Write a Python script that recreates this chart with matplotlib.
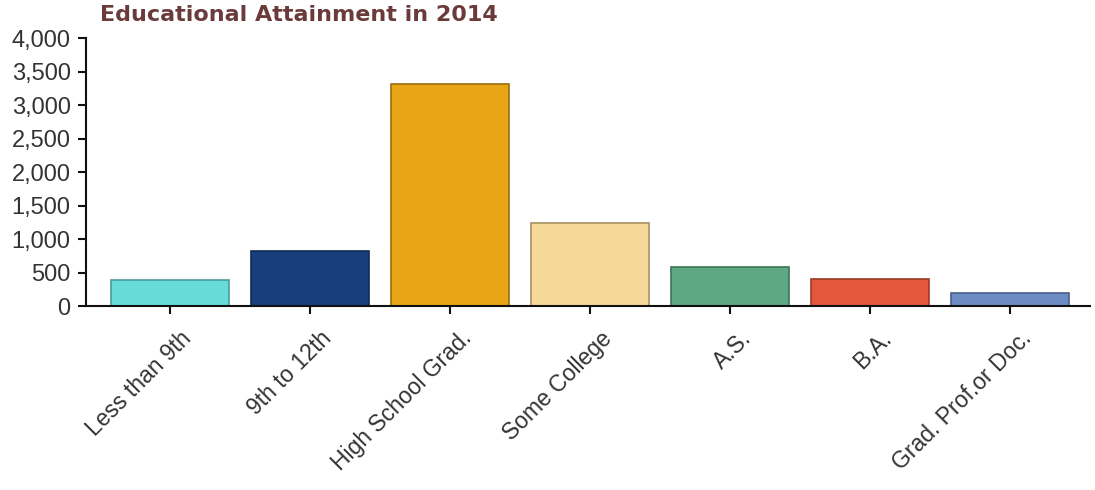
import matplotlib.pyplot as plt
import matplotlib.transforms as mtransforms
from matplotlib.ticker import FuncFormatter

plt.rcParams['font.family'] = ['Liberation Sans', 'DejaVu Sans']

categories = ['Less than 9th', '9th to 12th', 'High School Grad.', 'Some College',
              'A.S.', 'B.A.', 'Grad. Prof.or Doc.']
values = [395, 825, 3310, 1235, 590, 400, 200]
colors = ['#66dbd7', '#183e7c', '#e8a515', '#f6d898', '#5ea983', '#e5573c', '#6e8cc4']
edges = ['#4c9c99', '#0f2a57', '#9a6d10', '#a89060', '#3e7558', '#9c3a27', '#4a5f88']

fig = plt.figure(figsize=(10.95, 4.9), dpi=100)
ax = fig.add_axes([0.0785, 0.3755, 0.917, 0.5465])

x = range(len(categories))
ax.bar(x, values, width=0.84, color=colors, edgecolor=edges, linewidth=1.2)

ax.set_xlim(-0.6, 6.57)
ax.set_ylim(0, 4000)
ax.set_yticks(range(0, 4001, 500))
ax.yaxis.set_major_formatter(FuncFormatter(lambda v, p: f'{int(v):,}'))
ax.set_xticks(list(x))
ax.set_xticklabels(categories, rotation=45, ha='right', rotation_mode='anchor')

for s in ['top', 'right']:
    ax.spines[s].set_visible(False)
for s in ['left', 'bottom']:
    ax.spines[s].set_linewidth(1.5)
    ax.spines[s].set_color('#111111')
ax.tick_params(axis='both', direction='out', length=6, width=1.5,
               colors='#111111', labelcolor='#333333')
ax.tick_params(axis='y', labelsize=17, pad=5)
ax.tick_params(axis='x', labelsize=16.5, pad=9)

# nudge the rotated labels a little to the right, as in the original
shift = mtransforms.ScaledTranslation(10 / 100, 0, fig.dpi_scale_trans)
for lab in ax.get_xticklabels():
    lab.set_transform(lab.get_transform() + shift)

fig.text(0.091, 0.99, 'Educational Attainment in 2014', ha='left', va='top',
         fontsize=16, fontweight='bold', color='#6b3b3b', family='DejaVu Sans')

plt.savefig('out.png', dpi=100)
